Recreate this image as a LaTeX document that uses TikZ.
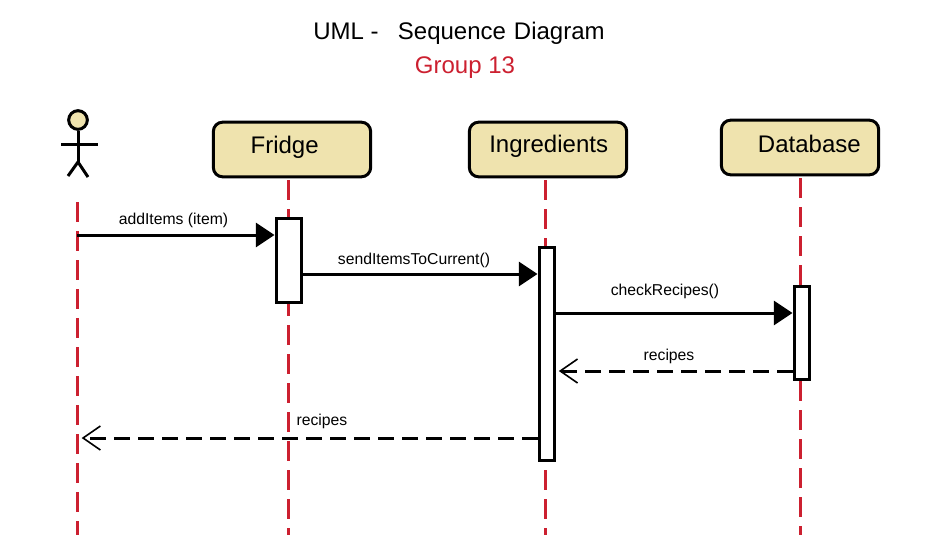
\documentclass[tikz,border=0pt]{standalone}
\usepackage{fontspec}
\setmainfont{Liberation Sans}
\usetikzlibrary{arrows.meta}
\definecolor{boxfill}{RGB}{239,227,174}
\definecolor{lifered}{RGB}{204,32,48}
\tikzset{
	every head/.style={
		draw,
		line width=2.25pt,
		rounded corners=7pt,
		fill=boxfill,
		minimum width=118pt,
		minimum height=41pt,
		inner sep=0pt
	},
	every bar/.style={
		draw,
		line width=2.25pt,
		fill=white,
		inner sep=0pt
	},
	lifeline/.style={
		draw=lifered,
		line width=2.25pt,
		dash pattern=on 15pt off 6.75pt
	},
	limb/.style={
		line width=2.25pt
	},
	call/.style={
		line width=2.25pt,
		-{Triangle[length=14pt,width=18pt]}
	},
	reply/.style={
		line width=2.25pt,
		dash pattern=on 12pt off 6pt,
		-{Straight Barb[length=13pt,width=18pt,line width=1.2pt]},
		shorten >=2.5pt
	},
	msg/.style={
		font=\fontsize{11.8}{14}\selectfont
	},
	headtext/.style={
		font=\fontsize{18}{21}\selectfont
	}
}

\begin{document}
\begin{tikzpicture}[x=0.75pt, y=-0.75pt]
\useasboundingbox (0,0) rectangle (934,554);

\node [headtext] (title) at (459,33) {UML -\hspace{14.5pt}Sequence\hspace{6pt}Diagram};
\node [headtext, text=lifered] (group) at (465,68) {Group 13};

% lifelines
\foreach \m/\x/\t in {actor/77/202, fridge/288/180, ingredients/545/180, database/800/178} {
	\coordinate (\m-top) at (\x,\t);
	\coordinate (\m-end) at (\x,535);
	\draw [lifeline] (\m-top) -- (\m-end);
}

% heads
\foreach \m/\l/\x/\y/\dx/\dy in {fridge/Fridge/292/149.5/-5.5/1.5, ingredients/Ingredients/548/149.5/0.5/2.5, database/Database/800/147.5/7/2.5}
	\node [every head/.try, label={[headtext, xshift=\dx pt, yshift=\dy pt]center:\l}] (\m) at (\x,\y) {};

% actor
\node [circle, draw, line width=2.25pt, fill=boxfill, minimum size=14pt, inner sep=0pt] (actor-head) at (78,120) {};
\coordinate (actor-hip) at (78,162);
\coordinate (actor-left) at (61,144);
\coordinate (actor-right) at (98,144);
\coordinate (actor-foot1) at (68,176);
\coordinate (actor-foot2) at (88,177);
\draw [limb] (actor-head) -- (actor-hip);
\draw [limb] (actor-left) -- (actor-right);
\draw [limb] (actor-foot1) -- (actor-hip) -- (actor-foot2);

% activation bars
\foreach \m/\x/\y/\w/\h in {fridge/288.5/260/28/87, ingredients/546.5/353.5/18/216, database/801.5/332.5/18/96}
	\node [every bar/.try, minimum width=\w*0.75pt-2.25pt, minimum height=\h*0.75pt-2.25pt] (\m-bar) at (\x,\y) {};

% messages
\draw [call] (actor-top |- 0,235) -- (fridge-bar.west |- 0,235);
\draw [call] (fridge-bar.east |- 0,274) -- (ingredients-bar.west |- 0,274);
\draw [call] (ingredients-bar.east |- 0,313) -- (database-bar.west |- 0,313);
\draw [reply] (database-bar.west |- 0,371) -- (ingredients-bar.east |- 0,371);
\draw [reply, shorten >=3.5pt] (ingredients-bar.west |- 0,438) -- (actor-top |- 0,438);

\foreach \n/\l/\x/\y in {additems/addItems (item)/173.5/220, senditems/sendItemsToCurrent()/414/260, checkrecipes/checkRecipes()/665/291, recipes-a/recipes/669/356, recipes-b/recipes/322/421}
	\node [msg] (\n) at (\x,\y) {\l};

\end{tikzpicture}
\end{document}
